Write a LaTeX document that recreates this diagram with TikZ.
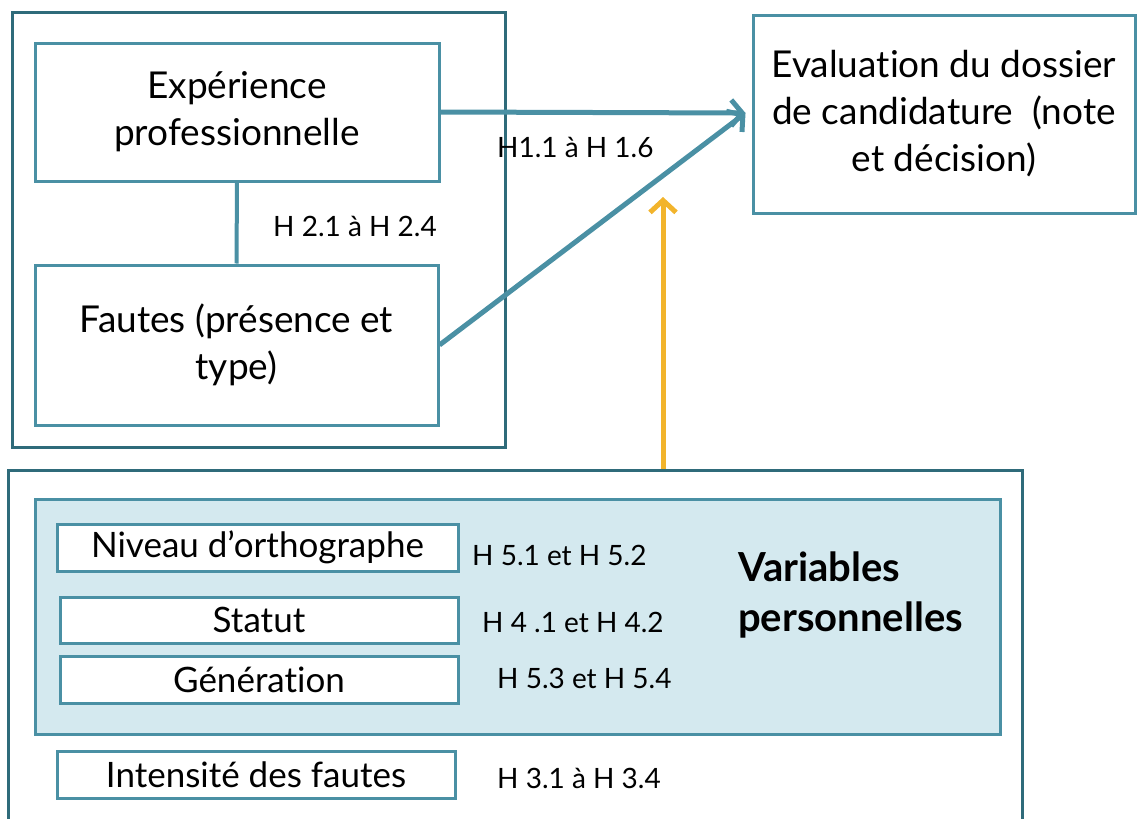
\documentclass[tikz,border=0pt]{standalone}
\usepackage{fontspec}
\setmainfont{Lato}[Ligatures=NoCommon]
\usetikzlibrary{arrows.meta,positioning}

\definecolor{tealline}{HTML}{4A90A4}
\definecolor{tealdark}{HTML}{2F6B7A}
\definecolor{panelblue}{HTML}{D4E9EF}
\definecolor{arrowgold}{HTML}{F2B42C}

\tikzset{
  box/.style={draw=tealline, line width=3pt, align=center, inner sep=0pt, fill=white},
  group/.style={draw=tealdark, line width=3pt, inner sep=0pt},
  bigtext/.style={font=\fontsize{37}{47}\selectfont},
  vartext/.style={font=\fontsize{35}{40}\selectfont},
  hyp/.style={font=\fontsize{28}{32}\selectfont, inner sep=0pt, anchor=west},
  link/.style={tealline, line width=5pt, -{Straight Barb[length=11pt, width=26pt, line width=5pt]}},
}

\begin{document}
\begin{tikzpicture}[x=1pt, y=-1pt]
\useasboundingbox (0,0) rectangle (1138,819);

% Left group: experience and errors
\node[group, minimum width=493, minimum height=435] (leftgrp) at (258.5,229.5) {};
\node[box, bigtext, minimum width=404, minimum height=138] (exp) at (237,112)
  {Expérience\\professionnelle};
\node[box, bigtext, minimum width=403, minimum height=160] (fautes) at (236.5,345)
  {Fautes (présence et\\type)};
\draw[tealline, line width=4pt] (exp.south) -- (fautes.north);
\node[hyp] (h2) at (273,226) {H 2.1 à H 2.4};

% Outcome
\node[box, bigtext, minimum width=382, minimum height=198] (eval) at (944,114)
  {Evaluation du dossier\\de candidature\ \ (note\\et décision)};

% Arrows to the outcome
\coordinate (evalin) at ([xshift=-6pt, yshift=1pt]eval.west);
\draw[link] (exp.east) -- (evalin);
\draw[link] (fautes.east) -- (evalin);
\node[hyp] (h1) at (497,147) {H1.1 à H 1.6};

% Bottom group: personal variables
\node[group, minimum width=1014, minimum height=370] (botgrp) at (515,655) {};
\node[box, fill=panelblue, minimum width=965, minimum height=235] (panel) at (517.5,616.5) {};
\node[box, vartext, minimum width=401, minimum height=47] (niveau) at (257.5,547.5) {Niveau d’orthographe};
\node[box, vartext, minimum width=398, minimum height=46] (statut) at (259,620) {Statut};
\node[box, vartext, minimum width=398, minimum height=47] (gen) at (259,679.5) {Génération};
\node[box, vartext, minimum width=398, minimum height=47] (intens) at (256,774.5) {Intensité des fautes};

\node[hyp] (h5a) at (472,555) {H 5.1 et H 5.2};
\node[hyp] (h4) at (482,622) {H 4 .1 et H 4.2};
\node[hyp] (h5b) at (497,678) {H 5.3 et H 5.4};
\node[hyp] (h3) at (497,778) {H 3.1 à H 3.4};
\node[font=\fontsize{40}{50}\selectfont\bfseries, align=left, anchor=west, inner sep=0pt] (perso)
  at (738,595) {Variables\\personnelles};

% Moderating arrow
\coordinate (gtip) at (663,197);
\draw[arrowgold, line width=5pt, -{Straight Barb[length=12pt, width=26pt, line width=5pt]}]
  (gtip |- botgrp.north) -- (gtip);
\end{tikzpicture}
\end{document}
